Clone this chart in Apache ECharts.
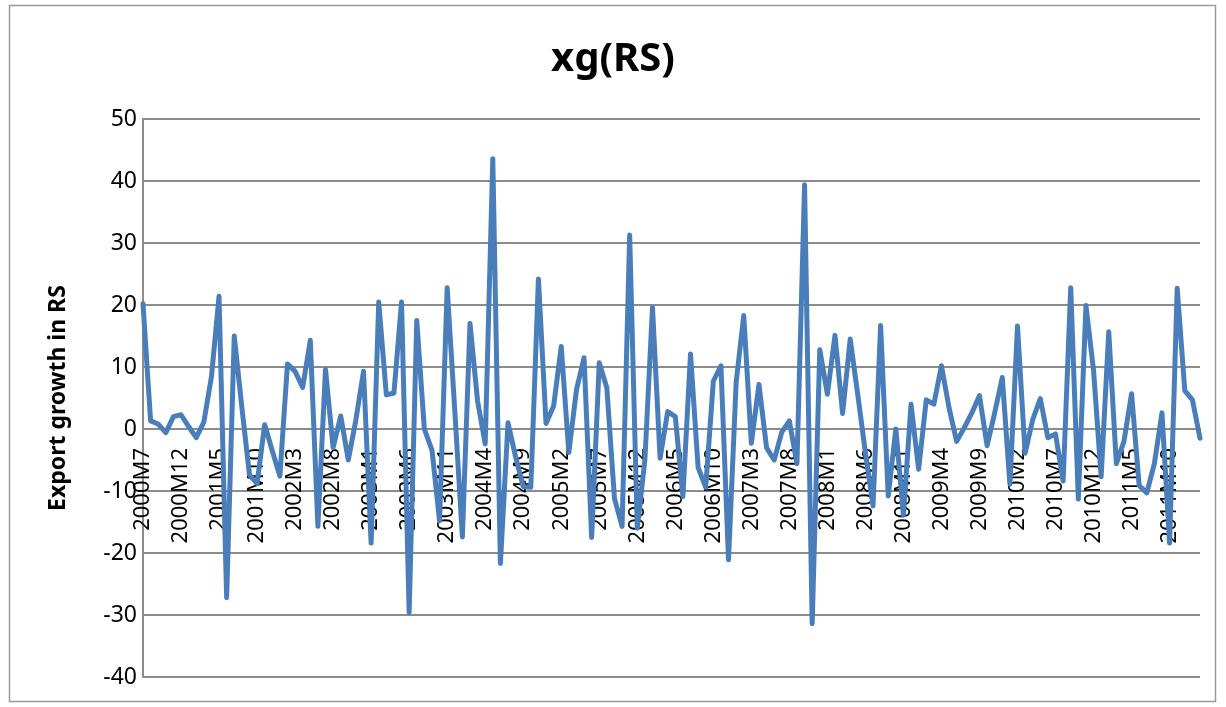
<!DOCTYPE html>
<html>
<head>
<meta charset="utf-8">
<style>
  html, body { margin: 0; padding: 0; background: #ffffff; }
  #chart { width: 1226px; height: 707px; }
</style>
<script src="https://cdn.jsdelivr.net/npm/echarts@6/dist/echarts.min.js"></script>
</head>
<body>
<div id="chart"></div>
<script>
// Monthly periods, 2000M7 .. 2012M2
const periods = [
  '2000M7','2000M8','2000M9','2000M10','2000M11','2000M12',
  '2001M1','2001M2','2001M3','2001M4','2001M5','2001M6','2001M7','2001M8','2001M9','2001M10','2001M11','2001M12',
  '2002M1','2002M2','2002M3','2002M4','2002M5','2002M6','2002M7','2002M8','2002M9','2002M10','2002M11','2002M12',
  '2003M1','2003M2','2003M3','2003M4','2003M5','2003M6','2003M7','2003M8','2003M9','2003M10','2003M11','2003M12',
  '2004M1','2004M2','2004M3','2004M4','2004M5','2004M6','2004M7','2004M8','2004M9','2004M10','2004M11','2004M12',
  '2005M1','2005M2','2005M3','2005M4','2005M5','2005M6','2005M7','2005M8','2005M9','2005M10','2005M11','2005M12',
  '2006M1','2006M2','2006M3','2006M4','2006M5','2006M6','2006M7','2006M8','2006M9','2006M10','2006M11','2006M12',
  '2007M1','2007M2','2007M3','2007M4','2007M5','2007M6','2007M7','2007M8','2007M9','2007M10','2007M11','2007M12',
  '2008M1','2008M2','2008M3','2008M4','2008M5','2008M6','2008M7','2008M8','2008M9','2008M10','2008M11','2008M12',
  '2009M1','2009M2','2009M3','2009M4','2009M5','2009M6','2009M7','2009M8','2009M9','2009M10','2009M11','2009M12',
  '2010M1','2010M2','2010M3','2010M4','2010M5','2010M6','2010M7','2010M8','2010M9','2010M10','2010M11','2010M12',
  '2011M1','2011M2','2011M3','2011M4','2011M5','2011M6','2011M7','2011M8','2011M9','2011M10','2011M11','2011M12',
  '2012M1','2012M2'
];

// Export growth in RS (%), one value per period
const exportGrowth = [
  20.2, 1.3, 0.8, -0.6, 2.0, 2.3, 0.4, -1.4, 1.1, 8.4,
  21.4, -27.2, 15.0, 3.5, -7.4, -8.8, 0.7, -3.5, -7.6, 10.5,
  9.3, 6.7, 14.3, -15.7, 9.6, -3.0, 2.1, -5.0, 1.5, 9.3,
  -18.4, 20.5, 5.5, 5.8, 20.5, -29.6, 17.5, 0.0, -3.4, -14.8,
  22.8, 3.0, -17.4, 17.0, 4.5, -2.4, 43.6, -21.7, 1.0, -4.5,
  -9.3, -9.4, 24.2, 0.9, 3.7, 13.3, -3.8, 6.3, 11.5, -17.5,
  10.7, 6.6, -11.2, -15.7, 31.3, -16.0, -5.0, 19.6, -4.7, 2.8,
  2.0, -10.9, 12.1, -6.2, -9.4, 7.7, 10.2, -21.1, 7.5, 18.3,
  -2.3, 7.2, -3.0, -5.0, -0.5, 1.3, -5.6, 39.4, -31.4, 12.8,
  5.6, 15.1, 2.5, 14.5, 5.5, -3.8, -12.4, 16.7, -10.8, 0.0,
  -13.9, 4.0, -6.5, 4.7, 4.0, 10.2, 3.4, -2.0, 0.2, 2.6,
  5.4, -2.7, 2.6, 8.3, -8.9, 16.6, -3.9, 1.5, 4.9, -1.4,
  -0.8, -8.4, 22.8, -11.3, 19.9, 9.5, -7.7, 15.7, -5.6, -2.0,
  5.7, -9.1, -10.3, -5.6, 2.6, -18.4, 22.7, 6.2, 4.7, -1.5
];

// Value axis range
const yMin = -40;
const yMax = 50;
const yStep = 10;

// Plot rectangle inside the 1226x707 canvas
const plotTop = 119;
const plotBottom = 30;
const plotHeight = 707 - plotTop - plotBottom;
// The category axis crosses the value axis at zero
const zeroOffset = -plotHeight * (0 - yMin) / (yMax - yMin);

const chart = echarts.init(document.getElementById('chart'), null, { renderer: 'canvas' });

const gridColor = '#8c8c8c';
const fontFamily = '"Noto Sans", "Open Sans", sans-serif';

chart.setOption({
  backgroundColor: '#ffffff',
  animation: false,
  title: {
    text: 'xg(RS)',
    left: 'center',
    top: 35,
    textStyle: { fontFamily: fontFamily, fontSize: 40, fontWeight: 'bold', color: '#000000' }
  },
  graphic: [{
    type: 'rect',
    shape: { x: 9.5, y: 5.5, width: 1206, height: 696 },
    style: { fill: 'none', stroke: '#9a9a9a', lineWidth: 1.5 },
    silent: true
  }],
  grid: { left: 143, right: 26, top: plotTop, bottom: plotBottom, containLabel: false, outerBoundsMode: 'none' },
  xAxis: {
    type: 'category',
    data: periods,
    boundaryGap: false,
    offset: zeroOffset,
    z: 0,
    axisLine: { onZero: false, lineStyle: { color: gridColor, width: 2 } },
    axisTick: { show: false },
    axisLabel: {
      interval: 4,
      rotate: 90,
      margin: 19,
      fontFamily: fontFamily,
      fontSize: 22,
      color: '#000000'
    },
    splitLine: { show: false }
  },
  yAxis: {
    type: 'value',
    min: yMin,
    max: yMax,
    interval: yStep,
    z: 0,
    name: 'Export growth in RS',
    nameLocation: 'middle',
    nameRotate: 90,
    nameGap: 73,
    nameTextStyle: { fontFamily: fontFamily, fontSize: 23, fontWeight: 'bold', color: '#000000' },
    axisLine: { show: true, lineStyle: { color: gridColor, width: 2 } },
    axisTick: { show: false },
    axisLabel: { margin: 6, fontFamily: fontFamily, fontSize: 23, color: '#000000' },
    splitLine: { show: true, lineStyle: { color: gridColor, width: 2 } }
  },
  series: [{
    type: 'line',
    data: exportGrowth,
    showSymbol: false,
    symbol: 'none',
    lineStyle: { color: '#4a7ebb', width: 5, join: 'round', cap: 'round' },
    z: 50
  }]
});
</script>
</body>
</html>
